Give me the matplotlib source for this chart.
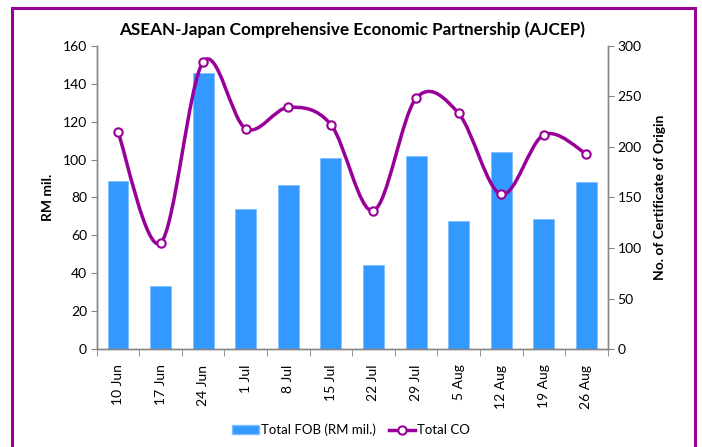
import matplotlib
matplotlib.use('Agg')
import matplotlib.pyplot as plt
from matplotlib.path import Path
from matplotlib.patches import PathPatch, Rectangle
from matplotlib.lines import Line2D
import numpy as np

# Weekly values
weeks = ['10 Jun', '17 Jun', '24 Jun', '1 Jul', '8 Jul', '15 Jul',
         '22 Jul', '29 Jul', '5 Aug', '12 Aug', '19 Aug', '26 Aug']
fob = [88.7, 33.2, 145.8, 74.1, 86.6, 100.6, 44.4, 102.0, 67.6, 103.8, 68.7, 88.2]
co = [215, 105, 284, 218, 239, 222, 137, 248, 233, 153, 212, 193]

bar_color = '#3399FF'
line_color = '#990099'
grey = '#868686'

plt.rcParams['font.family'] = ['Lato', 'DejaVu Sans']

fig = plt.figure(figsize=(7.02, 4.47), dpi=100)
ax = fig.add_axes([0.1377, 0.2186, 0.728, 0.6792])
ax2 = ax.twinx()

x = np.arange(len(weeks))
ax.bar(x, fob, width=0.49, color=bar_color, edgecolor='#7FBFFF', linewidth=0.6, zorder=2)

# smoothed line (Catmull-Rom style bezier, like the spreadsheet's smooth line)
pts = np.column_stack([x, co]).astype(float)
ext = np.vstack([pts[0], pts, pts[-1]])
verts = [tuple(pts[0])]
codes = [Path.MOVETO]
for i in range(len(pts) - 1):
    p0, p1, p2, p3 = ext[i], ext[i + 1], ext[i + 2], ext[i + 3]
    c1 = p1 + (p2 - p0) / 6.0
    c2 = p2 - (p3 - p1) / 6.0
    verts += [tuple(c1), tuple(c2), tuple(p2)]
    codes += [Path.CURVE4] * 3
ax2.add_patch(PathPatch(Path(verts, codes), facecolor='none', edgecolor=line_color,
                        linewidth=2.5, zorder=3))
ax2.plot(x, co, 'o', color=line_color, markerfacecolor='white', markeredgewidth=1.5,
         markersize=6, zorder=4)

ax.set_xlim(-0.5, len(weeks) - 0.5)
ax.set_ylim(0, 160)
ax.set_yticks(np.arange(0, 161, 20))
ax2.set_ylim(0, 300)
ax2.set_yticks(np.arange(0, 301, 50))

ax.set_xticks(x)
ax.set_xticklabels(weeks, rotation=90, fontsize=10)
ax.set_xticks(np.arange(-0.5, len(weeks), 1), minor=True)
ax.tick_params(axis='x', which='major', length=0, pad=11)
ax.tick_params(axis='x', which='minor', length=5, color=grey, direction='out')
ax.tick_params(axis='y', length=4, color=grey, labelsize=10, pad=3)
ax2.tick_params(axis='y', length=4, color=grey, labelsize=10, pad=3)

for a in (ax, ax2):
    a.spines['top'].set_visible(False)
    for s in ('left', 'right', 'bottom'):
        a.spines[s].set_color(grey)
        a.spines[s].set_linewidth(1)

ax.set_ylabel('RM mil.', fontsize=10, fontweight='bold', labelpad=6)
ax2.set_ylabel('No. of Certificate of Origin', fontsize=10, fontweight='bold', labelpad=9)
ax.set_title('ASEAN-Japan Comprehensive Economic Partnership (AJCEP)',
             fontsize=12.3, fontweight='bold', pad=8)

handles = [Rectangle((0, 0), 1, 1, facecolor=bar_color, edgecolor='#7FBFFF'),
           Line2D([], [], color=line_color, linewidth=2.5, marker='o',
                  markerfacecolor='white', markeredgewidth=1.5, markersize=6)]
fig.legend(handles, ['Total FOB (RM mil.)', 'Total CO'], loc='center',
           bbox_to_anchor=(0.5, 0.038), ncol=2, frameon=False, fontsize=9.5,
           handlelength=2.0, columnspacing=1.0, handletextpad=0.15)

# purple frame round the chart
fig.patches.append(Rectangle((0.0164, -0.05), 0.9736, 1.031, transform=fig.transFigure,
                             fill=False, edgecolor=line_color, linewidth=2.2))

fig.savefig('out.png', dpi=100)
